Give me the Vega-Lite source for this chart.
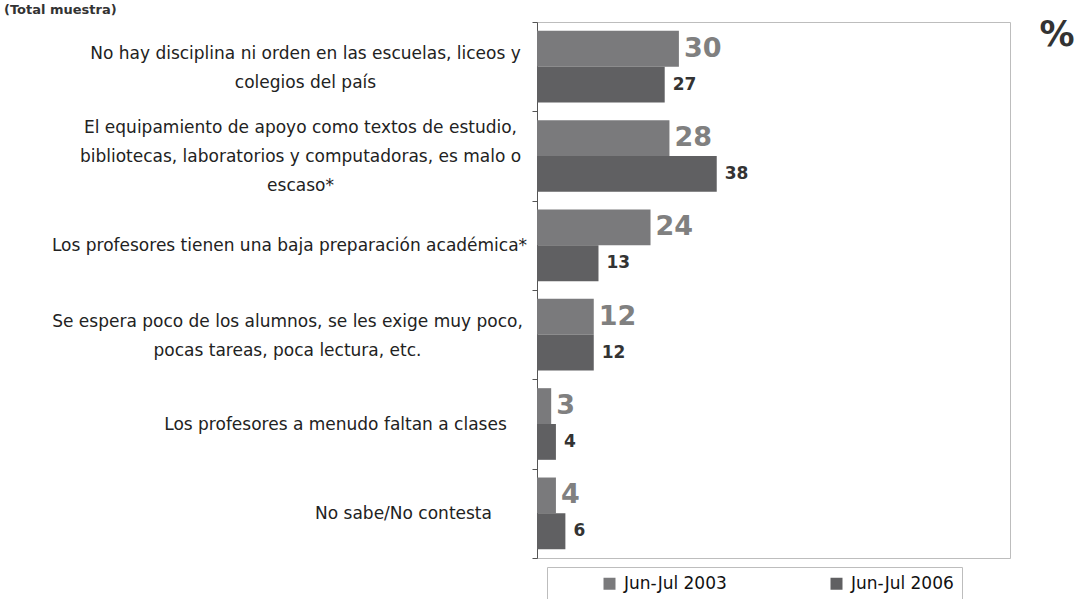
{
  "$schema": "https://vega.github.io/schema/vega-lite/v6.json",
  "autosize": {"type": "none"},
  "width": 473,
  "height": 536,
  "padding": {"left": 537, "top": 22, "right": 77, "bottom": 41},
  "background": "#ffffff",
  "title": {
    "text": "(Total muestra)",
    "anchor": "start",
    "frame": "group",
    "dx": -533,
    "dy": 24,
    "offset": 10,
    "baseline": "alphabetic",
    "font": "DejaVu Sans",
    "fontSize": 13,
    "fontWeight": "bold",
    "color": "#333333"
  },
  "config": {
    "view": {"stroke": "#bdbdbd", "strokeWidth": 1},
    "font": "DejaVu Sans"
  },
  "data": {
    "values": [
      {"pregunta": "No hay disciplina ni orden en las escuelas, liceos y|colegios del país", "periodo": "Jun-Jul 2003", "valor": 30},
      {"pregunta": "No hay disciplina ni orden en las escuelas, liceos y|colegios del país", "periodo": "Jun-Jul 2006", "valor": 27},
      {"pregunta": "El equipamiento de apoyo como textos de estudio,|bibliotecas, laboratorios y computadoras, es malo o|escaso*", "periodo": "Jun-Jul 2003", "valor": 28},
      {"pregunta": "El equipamiento de apoyo como textos de estudio,|bibliotecas, laboratorios y computadoras, es malo o|escaso*", "periodo": "Jun-Jul 2006", "valor": 38},
      {"pregunta": "Los profesores tienen una baja preparación académica*", "periodo": "Jun-Jul 2003", "valor": 24},
      {"pregunta": "Los profesores tienen una baja preparación académica*", "periodo": "Jun-Jul 2006", "valor": 13},
      {"pregunta": "Se espera poco de los alumnos, se les exige muy poco,|pocas tareas, poca lectura, etc.", "periodo": "Jun-Jul 2003", "valor": 12},
      {"pregunta": "Se espera poco de los alumnos, se les exige muy poco,|pocas tareas, poca lectura, etc.", "periodo": "Jun-Jul 2006", "valor": 12},
      {"pregunta": "Los profesores a menudo faltan a clases", "periodo": "Jun-Jul 2003", "valor": 3},
      {"pregunta": "Los profesores a menudo faltan a clases", "periodo": "Jun-Jul 2006", "valor": 4},
      {"pregunta": "No sabe/No contesta", "periodo": "Jun-Jul 2003", "valor": 4},
      {"pregunta": "No sabe/No contesta", "periodo": "Jun-Jul 2006", "valor": 6}
    ]
  },
  "encoding": {
    "y": {
      "field": "pregunta",
      "type": "nominal",
      "sort": null,
      "scale": {"paddingInner": 0, "paddingOuter": 0},
      "axis": {
        "title": null,
        "orient": "left",
        "tickBand": "extent",
        "domainColor": "#555555",
        "tickColor": "#555555",
        "tickSize": 5,
        "labelExpr": "isString(datum.value) ? split(datum.value, '|') : ''",
        "labelAlign": "center",
        "labelBaseline": "middle",
        "labelPadding": {
          "condition": [
            {"test": "test(/^No hay/, datum.value + '')", "value": 227},
            {"test": "test(/^Los profesores tienen/, datum.value + '')", "value": 243},
            {"test": "test(/^Se espera/, datum.value + '')", "value": 245},
            {"test": "test(/^Los profesores a menudo/, datum.value + '')", "value": 197},
            {"test": "test(/^No sabe/, datum.value + '')", "value": 129}
          ],
          "value": 232
        },
        "labelOffset": {
          "condition": [
            {"test": "test(/^El equipamiento/, datum.value + '')", "value": -29},
            {"test": "test(/^No hay|^Se espera/, datum.value + '')", "value": -13}
          ],
          "value": 0
        },
        "labelLimit": 700,
        "labelLineHeight": 29,
        "labelFont": "DejaVu Sans",
        "labelFontSize": 17,
        "labelColor": "#222222"
      }
    },
    "yOffset": {
      "field": "periodo",
      "type": "nominal",
      "scale": {"domain": ["Jun-Jul 2003", "Jun-Jul 2006"], "paddingInner": 0, "paddingOuter": 0.247}
    },
    "x": {
      "field": "valor",
      "type": "quantitative",
      "scale": {"domain": [0, 100], "nice": false},
      "axis": {
        "orient": "top",
        "domain": false,
        "ticks": false,
        "labels": false,
        "grid": false,
        "title": "%",
        "titleX": 502,
        "titleY": 23,
        "titleAlign": "left",
        "titleBaseline": "alphabetic",
        "titleAngle": 0,
        "titleFont": "DejaVu Sans",
        "titleFontSize": 35,
        "titleFontWeight": "bold",
        "titleColor": "#333333"
      }
    }
  },
  "layer": [
    {
      "mark": {"type": "bar"},
      "encoding": {
        "color": {
          "field": "periodo",
          "type": "nominal",
          "scale": {"domain": ["Jun-Jul 2003", "Jun-Jul 2006"], "range": ["#7a7a7c", "#606062"]},
          "legend": {
            "title": null,
            "orient": "none",
            "legendX": 10,
            "legendY": 545,
            "direction": "horizontal",
            "columns": 2,
            "columnPadding": 55,
            "symbolType": "square",
            "symbolSize": 144,
            "symbolStrokeWidth": 0,
            "symbolOffset": 46,
            "labelOffset": 6,
            "labelFont": "DejaVu Sans",
            "labelFontSize": 17,
            "labelColor": "#111111",
            "strokeColor": "#bdbdbd",
            "padding": 8
          }
        }
      }
    },
    {
      "transform": [{"filter": "datum.periodo == 'Jun-Jul 2003'"}],
      "mark": {"type": "text", "align": "left", "baseline": "middle", "dx": 5, "font": "DejaVu Sans", "fontSize": 27, "fontWeight": "bold", "color": "#808080"},
      "encoding": {"text": {"field": "valor", "type": "quantitative"}}
    },
    {
      "transform": [{"filter": "datum.periodo == 'Jun-Jul 2006'"}],
      "mark": {"type": "text", "align": "left", "baseline": "middle", "dx": 8, "font": "DejaVu Sans", "fontSize": 17, "fontWeight": "bold", "color": "#333333"},
      "encoding": {"text": {"field": "valor", "type": "quantitative"}}
    }
  ]
}
